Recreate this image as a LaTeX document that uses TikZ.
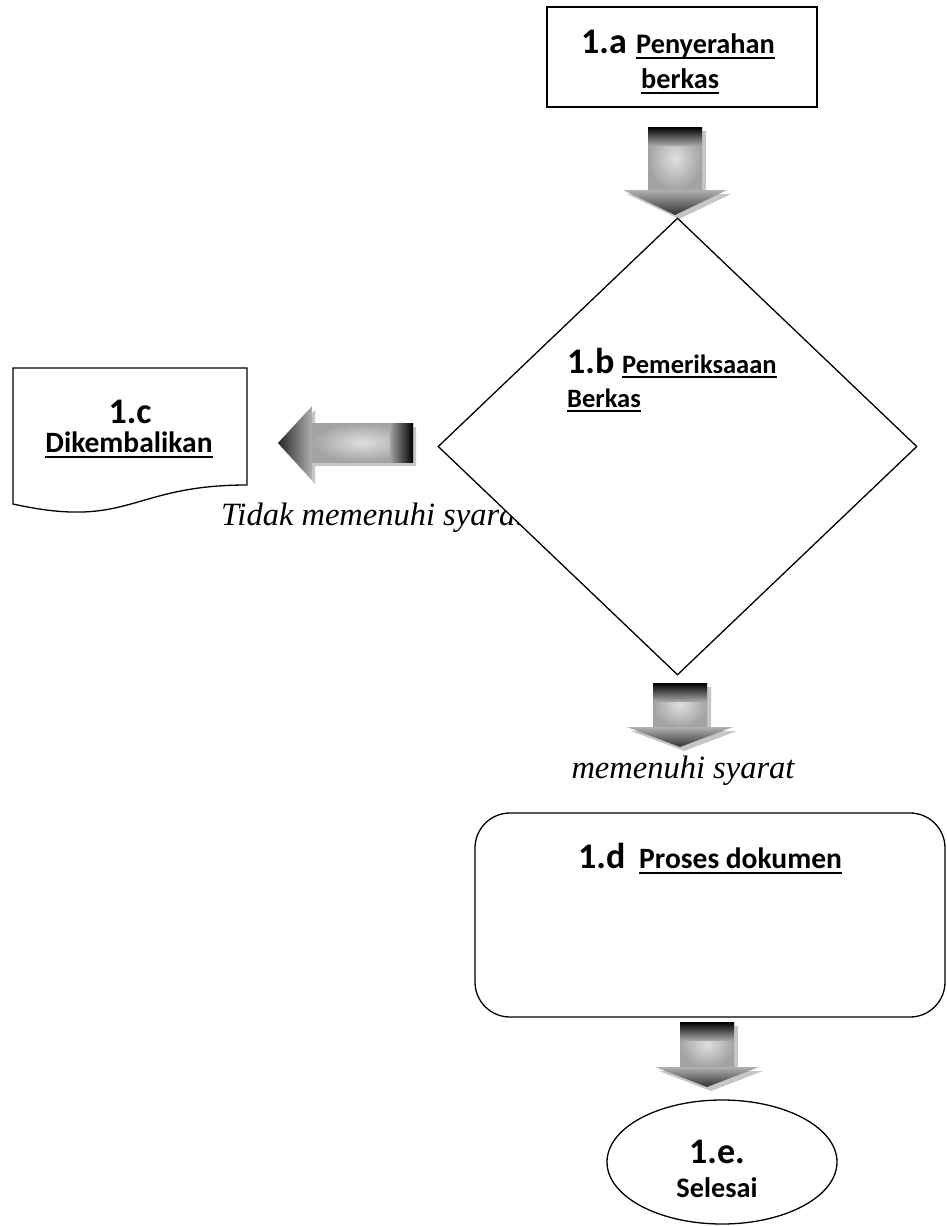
\documentclass[tikz,border=0pt]{standalone}
\usepackage{fontspec}
\usetikzlibrary{shapes.geometric}

\newfontfamily\carl{Carlito}
\newfontfamily\tnr{Liberation Serif}

% text with a Word-style underline at a fixed depth
\newcommand\ulbox[1]{\setbox0\hbox{#1}\rlap{\rule[-0.2em]{\wd0}{0.07em}}\box0}

% outline of a downward block arrow:
% #1 centre x, #2 top, #3 start of head, #4 tip, #5 half shaft, #6 half head
\newcommand\dnpath[6]{(#1-#5,#2) -- (#1+#5,#2) -- (#1+#5,#3) -- (#1+#6,#3) -- (#1,#4) -- (#1-#6,#3) -- (#1-#5,#3) -- cycle}
\newcommand\blockdown[6]{%
  \fill[arrowshadow, shift={(4,4)}] \dnpath{#1}{#2}{#3}{#4}{#5}{#6};
  \shade[inner color=gray!25, outer color=gray!72] (#1-#5,#2) rectangle (#1+#5,#3);
  \shade[top color=black, bottom color=gray!72] (#1-#5,#2) rectangle (#1+#5,#2+18);
  \shade[top color=gray!62, bottom color=black!80] (#1-#6,#3) -- (#1+#6,#3) -- (#1,#4) -- cycle;
}

\tikzset{
  shapeline/.style={draw=black, line width=1.3pt, fill=white, inner sep=0pt},
  arrowshadow/.style={fill=gray!45},
  txt/.style={inner sep=0pt, anchor=base west},
  numf/.style={font={\carl\bfseries\fontsize{36}{40}\selectfont}},
  labf/.style={font={\carl\bfseries\fontsize{28.3}{32}\selectfont}},
  labsmall/.style={font={\carl\bfseries\fontsize{26.5}{30}\selectfont}},
  labdoc/.style={font={\carl\bfseries\fontsize{29.5}{33}\selectfont}},
  note/.style={inner sep=0pt, font={\tnr\itshape\fontsize{32.5}{36}\selectfont}},
}

\begin{document}
\begin{tikzpicture}[x=1pt, y=-1pt]
\useasboundingbox (0,0) rectangle (946,1226);
\fill[white] (0,0) rectangle (946,1226);

% 1.a submission
\node[shapeline, minimum width=270pt, minimum height=100pt] (pa) at (682,57) {};
\node[txt, numf] (pa1) at (581,53) {1.a};
\node[txt, labf] (pa2) at (636,53) {\ulbox{Penyerahan}};
\node[txt, labf] (pa3) at (641,88) {\ulbox{berkas}};

% arrow 1.a -> 1.b
\blockdown{675}{127}{190}{215}{27}{52}

% label of the rejected branch (partly hidden by the decision)
\node[note, anchor=base west] (tno) at (221,525) {Tidak memenuhi syarat};

% 1.b check
\node[diamond, shapeline, minimum width=479pt, minimum height=457pt] (pb) at (677.5,446.5) {};
\node[txt, numf] (pb1) at (567,373) {1.b};
\node[txt, labsmall] (pb2) at (622,373) {\ulbox{Pemeriksaaan}};
\node[txt, labsmall] (pb3) at (567,407) {\ulbox{Berkas}};

% arrow 1.b -> 1.c
\fill[arrowshadow, shift={(3,4)}] (413,423) -- (312,423) -- (312,406) -- (278,443) -- (312,480) -- (312,462) -- (413,462) -- cycle;
\shade[inner color=gray!25, outer color=gray!72] (312,423) rectangle (413,462);
\shade[left color=gray!72, right color=black] (390,423) rectangle (413,462);
\shade[left color=black!85, right color=gray!62] (312,406) -- (278,443) -- (312,480) -- cycle;

% 1.c returned document
\draw[shapeline] (13,368) coordinate (pc nw) -- (247,368) -- (247,485)
  .. controls (130,485) and (130,530) .. (13,504) coordinate (pc sw) -- cycle;
\node[inner sep=0pt, anchor=base, numf] (pc1) at (130,423) {1.c};
\node[inner sep=0pt, anchor=base, labdoc] (pc2) at (129,452) {\ulbox{Dikembalikan}};

% arrow 1.b -> 1.d
\blockdown{680}{683}{727}{747}{27}{53}
\node[note, anchor=base] (tyes) at (683,778) {memenuhi syarat};

% 1.d processing
\node[shapeline, rounded corners=35pt, minimum width=470pt, minimum height=204pt] (pd) at (710,915) {};
\node[txt, numf] (pd1) at (578,868) {1.d};
\node[txt, labdoc] (pd2) at (639,868) {\ulbox{Proses dokumen}};

% arrow 1.d -> 1.e
\blockdown{707}{1022}{1067}{1087}{27}{52}

% 1.e end
\node[ellipse, shapeline, minimum width=230pt, minimum height=124pt] (pe) at (722,1162) {};
\node[inner sep=0pt, anchor=base, numf] (pe1) at (717,1163) {1.e.};
\node[inner sep=0pt, anchor=base, labf] (pe2) at (717,1197) {Selesai};
\end{tikzpicture}
\end{document}
